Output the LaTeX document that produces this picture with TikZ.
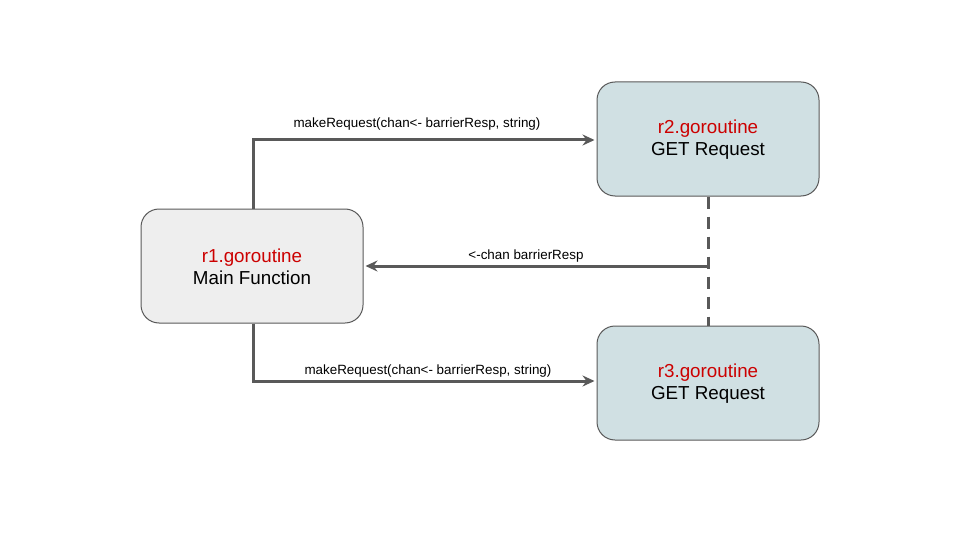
\documentclass[tikz,border=0pt]{standalone}
\usepackage{fontspec}
\setmainfont{Liberation Sans}
\usetikzlibrary{arrows.meta}
\definecolor{lineg}{HTML}{595959}
\definecolor{boxg}{HTML}{EEEEEE}
\definecolor{boxb}{HTML}{D0E0E3}
\definecolor{redt}{HTML}{CC0000}
\begin{document}
\begin{tikzpicture}[x=1pt,y=-1pt,
  box/.style={draw=lineg, line width=1pt, rounded corners=18pt, minimum width=222pt, minimum height=114pt, align=center, font=\fontsize{18.8}{22}\selectfont, inner sep=0pt, text depth=1pt},
  conn/.style={draw=lineg, line width=3pt, -{Stealth[length=12pt,width=11pt,inset=4pt]}, shorten >=2pt},
  lbl/.style={font=\fontsize{13.4}{15}\selectfont, inner sep=0pt}]
\useasboundingbox (0,0) rectangle (960,540);
\node[box, fill=boxg] (r1) at (252,266) {\textcolor{redt}{r1.goroutine}\\Main Function\vspace*{-3pt}};
\node[box, fill=boxb] (r2) at (708,139) {\textcolor{redt}{r2.goroutine}\\GET Request\vspace*{-3pt}};
\node[box, fill=boxb] (r3) at (708,383) {\textcolor{redt}{r3.goroutine}\\GET Request\vspace*{-3pt}};
\coordinate (j) at (708,266);
\draw[conn] (r1.north -| 253,0) |- (r2.west |- 0,140);
\draw[conn] (r1.south -| 253,0) |- (r3.west |- 0,381);
\draw[draw=lineg, line width=3pt, dash pattern=on 12pt off 8pt] (r2.south) -- (r3.north);
\draw[conn] (j) -- (r1.east);
\node[lbl] (l1) at (417,124) {makeRequest(chan<- barrierResp, string)};
\node[lbl] (l2) at (526,256) {<-chan barrierResp};
\node[lbl] (l3) at (428,371) {makeRequest(chan<- barrierResp, string)};
\end{tikzpicture}
\end{document}
